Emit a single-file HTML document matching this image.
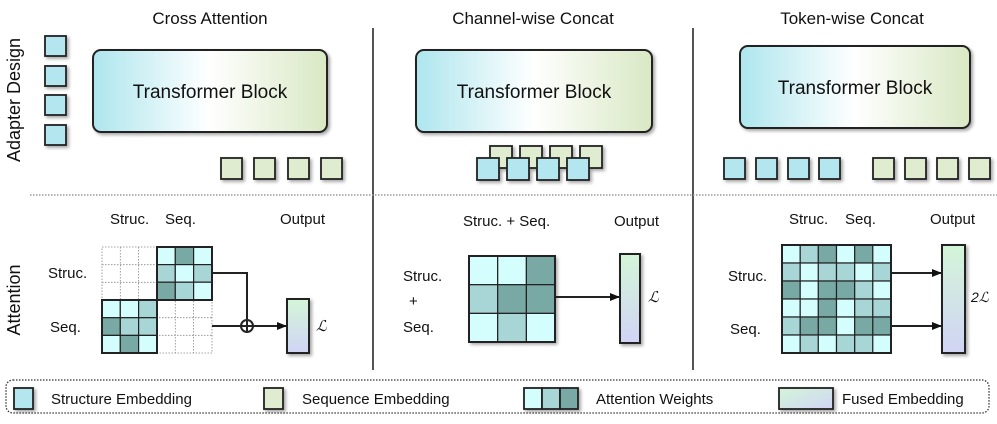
<!DOCTYPE html>
<html><head><meta charset="utf-8"><style>body{margin:0;background:#fff}svg{display:block}text{font-family:"Liberation Sans",sans-serif;fill:#111}</style></head><body>
<svg width="997" height="424" viewBox="0 0 997 424" xmlns="http://www.w3.org/2000/svg">
<defs>
<linearGradient id="tb" x1="0" x2="1" y1="0" y2="0"><stop offset="0" stop-color="#aee6ee"/><stop offset="0.5" stop-color="#ffffff"/><stop offset="1" stop-color="#d9e8c4"/></linearGradient>
<linearGradient id="fu" x1="0" x2="0" y1="0" y2="1"><stop offset="0" stop-color="#d4f5d8"/><stop offset="1" stop-color="#d0d4f5"/></linearGradient>
<linearGradient id="fuh" x1="0" x2="1" y1="0" y2="1"><stop offset="0" stop-color="#d4f5d8"/><stop offset="1" stop-color="#d0d4f5"/></linearGradient>
<filter id="sh" x="-20%" y="-20%" width="150%" height="150%"><feDropShadow dx="2" dy="2" stdDeviation="1.5" flood-opacity="0.35"/></filter>
<marker id="ar" markerWidth="10" markerHeight="8" refX="9" refY="4" orient="auto" markerUnits="userSpaceOnUse"><path d="M0,0 L10,4 L0,8 z" fill="#111"/></marker>
</defs>
<g font-size="17" text-anchor="middle">
<text x="210" y="24">Cross Attention</text>
<text x="533" y="24">Channel-wise Concat</text>
<text x="852" y="24">Token-wise Concat</text>
</g>
<text transform="translate(20,100) rotate(-90)" font-size="18" text-anchor="middle">Adapter Design</text>
<text transform="translate(20,300) rotate(-90)" font-size="18" text-anchor="middle">Attention</text>
<line x1="373" y1="28" x2="373" y2="370" stroke="#555" stroke-width="2"/>
<line x1="693" y1="28" x2="693" y2="370" stroke="#555" stroke-width="2"/>
<line x1="30" y1="195" x2="997" y2="195" stroke="#999" stroke-width="1.5" stroke-dasharray="1.5,1.5"/>
<g stroke="#222" stroke-width="2" fill="url(#tb)" filter="url(#sh)">
<rect x="93" y="50" width="234" height="82" rx="8"/>
<rect x="416" y="50" width="236" height="82" rx="8"/>
<rect x="740" y="46" width="230" height="82" rx="8"/>
</g>
<g font-size="19" text-anchor="middle">
<text x="210" y="98">Transformer Block</text>
<text x="534" y="98">Transformer Block</text>
<text x="855" y="94">Transformer Block</text>
</g>
<g stroke="#222" stroke-width="1.8" filter="url(#sh)">
<g fill="#b3e6ee">
<rect x="45" y="36" width="21" height="20"/><rect x="45" y="66" width="21" height="20"/><rect x="45" y="95" width="21" height="20"/><rect x="45" y="125" width="21" height="20"/>
</g>
<g fill="#e0ecd0">
<rect x="221" y="158" width="21" height="21"/><rect x="254" y="158" width="21" height="21"/><rect x="288" y="158" width="21" height="21"/><rect x="321" y="158" width="21" height="21"/>
<rect x="490" y="146" width="22" height="22"/><rect x="520" y="146" width="22" height="22"/><rect x="550" y="146" width="22" height="22"/><rect x="580" y="146" width="22" height="22"/>
<rect x="873" y="158" width="21" height="21"/><rect x="905" y="158" width="21" height="21"/><rect x="937" y="158" width="21" height="21"/><rect x="969" y="158" width="21" height="21"/>
</g>
<g fill="#b3e6ee">
<rect x="477" y="158" width="22" height="22"/><rect x="507" y="158" width="22" height="22"/><rect x="537" y="158" width="22" height="22"/><rect x="567" y="158" width="22" height="22"/>
<rect x="724" y="158" width="21" height="21"/><rect x="756" y="158" width="21" height="21"/><rect x="788" y="158" width="21" height="21"/><rect x="819" y="158" width="21" height="21"/>
</g>
</g>
<g font-size="15">
<text x="110" y="224">Struc.</text><text x="165" y="224">Seq.</text><text x="280" y="224">Output</text>
<text x="48" y="278">Struc.</text><text x="50" y="332">Seq.</text>
<text x="463" y="226">Struc. + Seq.</text><text x="614" y="226">Output</text>
<text x="403" y="281">Struc.</text><text x="409" y="306">+</text><text x="403" y="332">Seq.</text>
<text x="789" y="224">Struc.</text><text x="845" y="224">Seq.</text><text x="930" y="224">Output</text>
<text x="728" y="281">Struc.</text><text x="730" y="334">Seq.</text>
</g>
<g stroke="#888" stroke-width="0.8" stroke-dasharray="1.5,1.5" fill="none">
<rect x="102" y="247" width="110" height="106"/>
<path d="M120.3,247V353M138.6,247V353M157,247V353M175.3,247V353M193.6,247V353M102,264.7H212M102,282.3H212M102,300H212M102,317.7H212M102,335.3H212"/>
</g>
<g stroke="#222" stroke-width="1.2">
<rect x="157" y="247" width="18.3" height="17.6" fill="#d4fdfd"/><rect x="175.3" y="247" width="18.3" height="17.6" fill="#79a9a5"/><rect x="193.6" y="247" width="18.4" height="17.6" fill="#d4fdfd"/>
<rect x="157" y="264.6" width="18.3" height="17.6" fill="#a8d5d5"/><rect x="175.3" y="264.6" width="18.3" height="17.6" fill="#d4fdfd"/><rect x="193.6" y="264.6" width="18.4" height="17.6" fill="#a8d5d5"/>
<rect x="157" y="282.2" width="18.3" height="17.6" fill="#79a9a5"/><rect x="175.3" y="282.2" width="18.3" height="17.6" fill="#a8d5d5"/><rect x="193.6" y="282.2" width="18.4" height="17.6" fill="#d4fdfd"/>
<rect x="102" y="300" width="18.3" height="17.7" fill="#d4fdfd"/><rect x="120.3" y="300" width="18.3" height="17.7" fill="#d4fdfd"/><rect x="138.6" y="300" width="18.4" height="17.7" fill="#a8d5d5"/>
<rect x="102" y="317.7" width="18.3" height="17.7" fill="#79a9a5"/><rect x="120.3" y="317.7" width="18.3" height="17.7" fill="#a8d5d5"/><rect x="138.6" y="317.7" width="18.4" height="17.7" fill="#a8d5d5"/>
<rect x="102" y="335.4" width="18.3" height="17.6" fill="#d4fdfd"/><rect x="120.3" y="335.4" width="18.3" height="17.6" fill="#79a9a5"/><rect x="138.6" y="335.4" width="18.4" height="17.6" fill="#d4fdfd"/>
</g>
<g fill="none" stroke="#222" stroke-width="2">
<rect x="157" y="247" width="55" height="53"/><rect x="102" y="300" width="55" height="53"/>
<path d="M212,273H247V319"/>
<line x1="212" y1="326" x2="241" y2="326"/>
<circle cx="247" cy="326" r="6"/><path d="M241,326H253M247,320V332"/>
<line x1="253" y1="326" x2="286" y2="326" marker-end="url(#ar)"/>
</g>
<rect x="287" y="299" width="22" height="54" fill="url(#fu)" stroke="#222" stroke-width="2" filter="url(#sh)"/>
<text x="316" y="331" font-size="15" font-style="italic" font-family="Liberation Serif">ℒ</text>
<g stroke="#222" stroke-width="1.2" filter="url(#sh)">
<rect x="469" y="256" width="28.7" height="28.7" fill="#d4fdfd"/><rect x="497.7" y="256" width="28.7" height="28.7" fill="#d4fdfd"/><rect x="526.4" y="256" width="28.6" height="28.7" fill="#79a9a5"/>
<rect x="469" y="284.7" width="28.7" height="28.7" fill="#a8d5d5"/><rect x="497.7" y="284.7" width="28.7" height="28.7" fill="#79a9a5"/><rect x="526.4" y="284.7" width="28.6" height="28.7" fill="#79a9a5"/>
<rect x="469" y="313.4" width="28.7" height="28.6" fill="#d4fdfd"/><rect x="497.7" y="313.4" width="28.7" height="28.6" fill="#a8d5d5"/><rect x="526.4" y="313.4" width="28.6" height="28.6" fill="#d4fdfd"/>
</g>
<rect x="469" y="256" width="86" height="86" fill="none" stroke="#222" stroke-width="2"/>
<line x1="555" y1="297" x2="619" y2="297" stroke="#222" stroke-width="2" marker-end="url(#ar)"/>
<rect x="620" y="254" width="20" height="89" fill="url(#fu)" stroke="#222" stroke-width="2" filter="url(#sh)"/>
<text x="648" y="302" font-size="15" font-style="italic" font-family="Liberation Serif">ℒ</text>
<g stroke="#222" stroke-width="1.2">
<rect x="782" y="245" width="18.2" height="18" fill="#d4fdfd"/><rect x="800.2" y="245" width="18.2" height="18" fill="#a8d5d5"/><rect x="818.3" y="245" width="18.2" height="18" fill="#79a9a5"/><rect x="836.5" y="245" width="18.2" height="18" fill="#d4fdfd"/><rect x="854.7" y="245" width="18.2" height="18" fill="#79a9a5"/><rect x="872.8" y="245" width="18.2" height="18" fill="#d4fdfd"/>
<rect x="782" y="263" width="18.2" height="18" fill="#a8d5d5"/><rect x="800.2" y="263" width="18.2" height="18" fill="#d4fdfd"/><rect x="818.3" y="263" width="18.2" height="18" fill="#a8d5d5"/><rect x="836.5" y="263" width="18.2" height="18" fill="#a8d5d5"/><rect x="854.7" y="263" width="18.2" height="18" fill="#d4fdfd"/><rect x="872.8" y="263" width="18.2" height="18" fill="#a8d5d5"/>
<rect x="782" y="281" width="18.2" height="18" fill="#79a9a5"/><rect x="800.2" y="281" width="18.2" height="18" fill="#d4fdfd"/><rect x="818.3" y="281" width="18.2" height="18" fill="#79a9a5"/><rect x="836.5" y="281" width="18.2" height="18" fill="#79a9a5"/><rect x="854.7" y="281" width="18.2" height="18" fill="#a8d5d5"/><rect x="872.8" y="281" width="18.2" height="18" fill="#d4fdfd"/>
<rect x="782" y="299" width="18.2" height="18" fill="#d4fdfd"/><rect x="800.2" y="299" width="18.2" height="18" fill="#d4fdfd"/><rect x="818.3" y="299" width="18.2" height="18" fill="#79a9a5"/><rect x="836.5" y="299" width="18.2" height="18" fill="#d4fdfd"/><rect x="854.7" y="299" width="18.2" height="18" fill="#a8d5d5"/><rect x="872.8" y="299" width="18.2" height="18" fill="#a8d5d5"/>
<rect x="782" y="317" width="18.2" height="18" fill="#a8d5d5"/><rect x="800.2" y="317" width="18.2" height="18" fill="#79a9a5"/><rect x="818.3" y="317" width="18.2" height="18" fill="#79a9a5"/><rect x="836.5" y="317" width="18.2" height="18" fill="#d4fdfd"/><rect x="854.7" y="317" width="18.2" height="18" fill="#79a9a5"/><rect x="872.8" y="317" width="18.2" height="18" fill="#79a9a5"/>
<rect x="782" y="335" width="18.2" height="18" fill="#d4fdfd"/><rect x="800.2" y="335" width="18.2" height="18" fill="#a8d5d5"/><rect x="818.3" y="335" width="18.2" height="18" fill="#d4fdfd"/><rect x="836.5" y="335" width="18.2" height="18" fill="#a8d5d5"/><rect x="854.7" y="335" width="18.2" height="18" fill="#a8d5d5"/><rect x="872.8" y="335" width="18.2" height="18" fill="#d4fdfd"/>
</g>
<rect x="782" y="245" width="109" height="108" fill="none" stroke="#222" stroke-width="2"/>
<g stroke="#222" stroke-width="2">
<line x1="891" y1="273" x2="941" y2="273" marker-end="url(#ar)"/>
<line x1="891" y1="326" x2="941" y2="326" marker-end="url(#ar)"/>
</g>
<rect x="942" y="245" width="23" height="108" fill="url(#fu)" stroke="#222" stroke-width="2" filter="url(#sh)"/>
<text x="971" y="302" font-size="14" font-style="italic" font-family="Liberation Serif">2ℒ</text>
<rect x="6" y="380" width="983" height="33" rx="7" fill="none" stroke="#333" stroke-width="1.3" stroke-dasharray="1.5,1.5"/>
<g stroke="#222" stroke-width="1.8" filter="url(#sh)">
<rect x="14" y="388" width="19" height="21" fill="#b3e6ee"/>
<rect x="264" y="388" width="19" height="21" fill="#e0ecd0"/>
<rect x="524" y="388" width="18" height="21" fill="#d4fdfd"/><rect x="542" y="388" width="18" height="21" fill="#a8d5d5"/><rect x="560" y="388" width="18" height="21" fill="#79a9a5"/>
<rect x="779" y="388" width="54" height="21" fill="url(#fuh)"/>
</g>
<g font-size="15">
<text x="51" y="404">Structure Embedding</text>
<text x="302" y="404">Sequence Embedding</text>
<text x="596" y="404">Attention Weights</text>
<text x="842" y="404">Fused Embedding</text>
</g>
</svg>
</body></html>
